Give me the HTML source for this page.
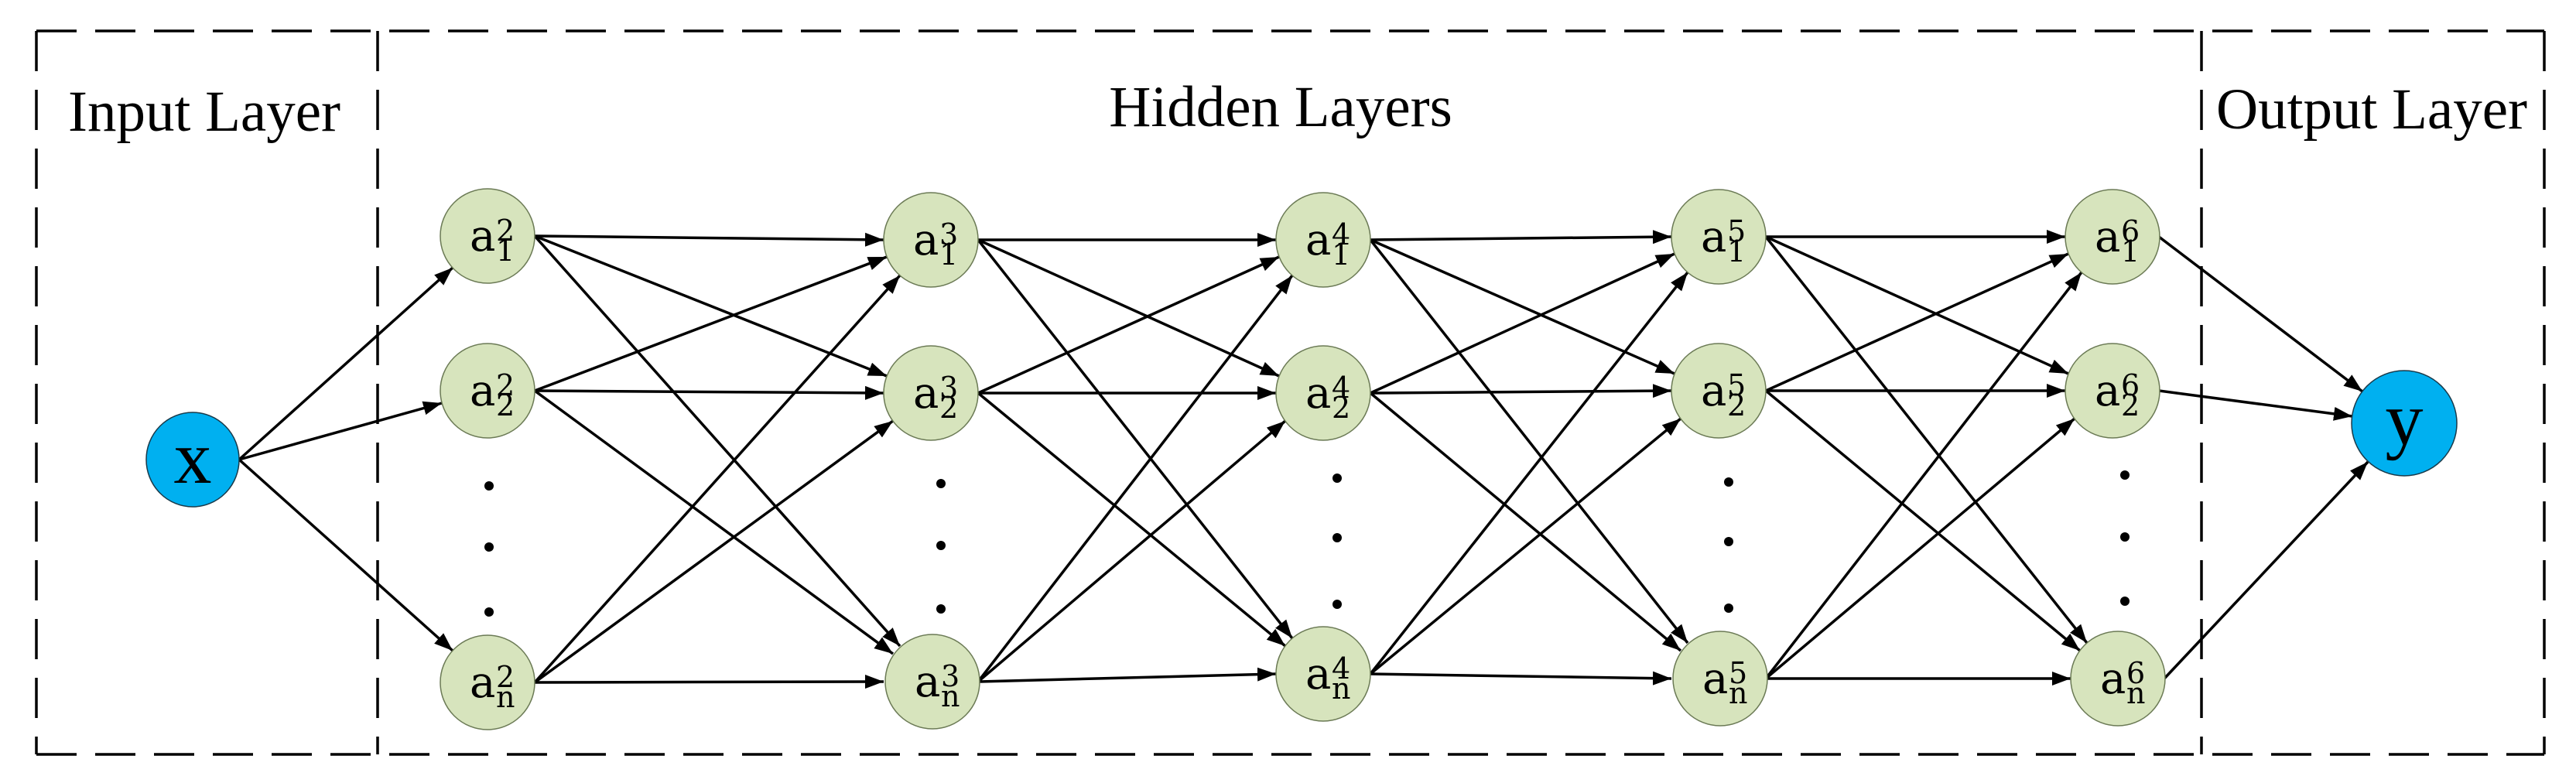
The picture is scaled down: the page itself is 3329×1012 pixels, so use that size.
<!DOCTYPE html>
<html><head><meta charset="utf-8"><style>
html,body{margin:0;padding:0;background:#fff;}
svg{display:block;}
.t{font-family:"Liberation Serif",serif;font-size:75px;fill:#000;}
.a{font-family:"DejaVu Serif",serif;font-size:56px;fill:#000;}
.s{font-family:"DejaVu Serif",serif;font-size:38px;fill:#000;}
.n{fill:#d7e4bd;stroke:#6b7a55;stroke-width:1.5;}
.b{fill:#00b0f0;stroke:#1a3a4a;stroke-width:1.5;}
.e line{stroke:#000;stroke-width:3.5;marker-end:url(#ar);}
</style></head><body>
<svg width="3329" height="1012" viewBox="0 0 3329 1012" xmlns="http://www.w3.org/2000/svg">
<defs><marker id="ar" markerUnits="userSpaceOnUse" markerWidth="26" markerHeight="20" refX="24" refY="9" orient="auto"><path d="M0,0 L24,9 L0,18 z" fill="#000"/></marker></defs>
<g stroke="#000" stroke-width="3.5" stroke-dasharray="52 24" fill="none">
<line x1="47" y1="40" x2="3288" y2="40"/>
<line x1="47" y1="975" x2="3288" y2="975"/>
<line x1="47" y1="40" x2="47" y2="975"/>
<line x1="3288" y1="40" x2="3288" y2="975"/>
<line x1="488" y1="40" x2="488" y2="975"/>
<line x1="2845" y1="40" x2="2845" y2="975"/>
</g>
<text class="t" x="264" y="169" text-anchor="middle">Input Layer</text>
<text class="t" x="1655" y="163" text-anchor="middle">Hidden Layers</text>
<text class="t" x="3065" y="166" text-anchor="middle">Output Layer</text>
<g class="e">
<line x1="309" y1="594" x2="585" y2="346"/><line x1="309" y1="594" x2="571" y2="521"/><line x1="309" y1="594" x2="585" y2="841"/>
<line x1="691" y1="305" x2="1142" y2="310"/><line x1="691" y1="305" x2="1146" y2="486"/><line x1="691" y1="305" x2="1163" y2="835"/>
<line x1="691" y1="505" x2="1146" y2="332"/><line x1="691" y1="505" x2="1142" y2="508"/><line x1="691" y1="505" x2="1154" y2="845"/>
<line x1="691" y1="882" x2="1163" y2="356"/><line x1="691" y1="882" x2="1154" y2="544"/><line x1="691" y1="882" x2="1142" y2="881"/>
<line x1="1264" y1="310" x2="1649" y2="310"/><line x1="1264" y1="310" x2="1653" y2="486"/><line x1="1264" y1="310" x2="1670" y2="825"/>
<line x1="1264" y1="508" x2="1653" y2="332"/><line x1="1264" y1="508" x2="1649" y2="508"/><line x1="1264" y1="508" x2="1661" y2="835"/>
<line x1="1264" y1="881" x2="1670" y2="356"/><line x1="1264" y1="881" x2="1661" y2="544"/><line x1="1264" y1="881" x2="1649" y2="871"/>
<line x1="1771" y1="310" x2="2160" y2="306"/><line x1="1771" y1="310" x2="2164" y2="483"/><line x1="1771" y1="310" x2="2181" y2="831"/>
<line x1="1771" y1="508" x2="2164" y2="328"/><line x1="1771" y1="508" x2="2160" y2="505"/><line x1="1771" y1="508" x2="2172" y2="841"/>
<line x1="1771" y1="871" x2="2181" y2="352"/><line x1="1771" y1="871" x2="2172" y2="541"/><line x1="1771" y1="871" x2="2160" y2="877"/>
<line x1="2282" y1="306" x2="2669" y2="306"/><line x1="2282" y1="306" x2="2673" y2="483"/><line x1="2282" y1="306" x2="2697" y2="831"/>
<line x1="2282" y1="505" x2="2673" y2="328"/><line x1="2282" y1="505" x2="2669" y2="505"/><line x1="2282" y1="505" x2="2688" y2="841"/>
<line x1="2282" y1="877" x2="2690" y2="352"/><line x1="2282" y1="877" x2="2681" y2="541"/><line x1="2282" y1="877" x2="2676" y2="877"/>
<line x1="2790" y1="306" x2="3053" y2="506"/><line x1="2790" y1="505" x2="3040" y2="538"/><line x1="2797" y1="877" x2="3060" y2="597"/>
</g>
<ellipse class="b" cx="249" cy="594" rx="60" ry="61"/>
<text x="249" y="624" text-anchor="middle" style="font-family:'Liberation Serif',serif;font-size:98px">x</text>
<circle class="b" cx="3107" cy="547" r="68"/>
<text x="3107" y="574" text-anchor="middle" style="font-family:'Liberation Serif',serif;font-size:98px">y</text>
<g fill="#000">
<circle cx="632" cy="628" r="6"/><circle cx="632" cy="707" r="6"/><circle cx="632" cy="791" r="6"/>
<circle cx="1216" cy="625" r="6"/><circle cx="1216" cy="705" r="6"/><circle cx="1216" cy="787" r="6"/>
<circle cx="1728" cy="618" r="6"/><circle cx="1728" cy="695" r="6"/><circle cx="1728" cy="781" r="6"/>
<circle cx="2234" cy="623" r="6"/><circle cx="2234" cy="700" r="6"/><circle cx="2234" cy="786" r="6"/>
<circle cx="2746" cy="614" r="6"/><circle cx="2746" cy="694" r="6"/><circle cx="2746" cy="777" r="6"/>
</g>
<g>
<circle class="n" cx="630" cy="305" r="61"/><circle class="n" cx="630" cy="505" r="61"/><circle class="n" cx="630" cy="882" r="61"/>
<circle class="n" cx="1203" cy="310" r="61"/><circle class="n" cx="1203" cy="508" r="61"/><circle class="n" cx="1205" cy="881" r="61"/>
<circle class="n" cx="1710" cy="310" r="61"/><circle class="n" cx="1710" cy="508" r="61"/><circle class="n" cx="1710" cy="871" r="61"/>
<circle class="n" cx="2221" cy="306" r="61"/><circle class="n" cx="2221" cy="505" r="61"/><circle class="n" cx="2223" cy="877" r="61"/>
<circle class="n" cx="2730" cy="306" r="61"/><circle class="n" cx="2730" cy="505" r="61"/><circle class="n" cx="2737" cy="877" r="61"/>
</g>
<g>
<text class="a" x="607" y="324">a</text><text class="s" x="641" y="311">2</text><text class="s" x="641" y="337">1</text>
<text class="a" x="607" y="524">a</text><text class="s" x="641" y="511">2</text><text class="s" x="641" y="537">2</text>
<text class="a" x="607" y="901">a</text><text class="s" x="641" y="888">2</text><text class="s" x="641" y="914">n</text>
<text class="a" x="1180" y="329">a</text><text class="s" x="1214" y="316">3</text><text class="s" x="1214" y="342">1</text>
<text class="a" x="1180" y="527">a</text><text class="s" x="1214" y="514">3</text><text class="s" x="1214" y="540">2</text>
<text class="a" x="1182" y="900">a</text><text class="s" x="1216" y="887">3</text><text class="s" x="1216" y="913">n</text>
<text class="a" x="1687" y="329">a</text><text class="s" x="1721" y="316">4</text><text class="s" x="1721" y="342">1</text>
<text class="a" x="1687" y="527">a</text><text class="s" x="1721" y="514">4</text><text class="s" x="1721" y="540">2</text>
<text class="a" x="1687" y="890">a</text><text class="s" x="1721" y="877">4</text><text class="s" x="1721" y="903">n</text>
<text class="a" x="2198" y="325">a</text><text class="s" x="2232" y="312">5</text><text class="s" x="2232" y="338">1</text>
<text class="a" x="2198" y="524">a</text><text class="s" x="2232" y="511">5</text><text class="s" x="2232" y="537">2</text>
<text class="a" x="2200" y="896">a</text><text class="s" x="2234" y="883">5</text><text class="s" x="2234" y="909">n</text>
<text class="a" x="2707" y="325">a</text><text class="s" x="2741" y="312">6</text><text class="s" x="2741" y="338">1</text>
<text class="a" x="2707" y="524">a</text><text class="s" x="2741" y="511">6</text><text class="s" x="2741" y="537">2</text>
<text class="a" x="2714" y="896">a</text><text class="s" x="2748" y="883">6</text><text class="s" x="2748" y="909">n</text>
</g>
</svg>
</body></html>
